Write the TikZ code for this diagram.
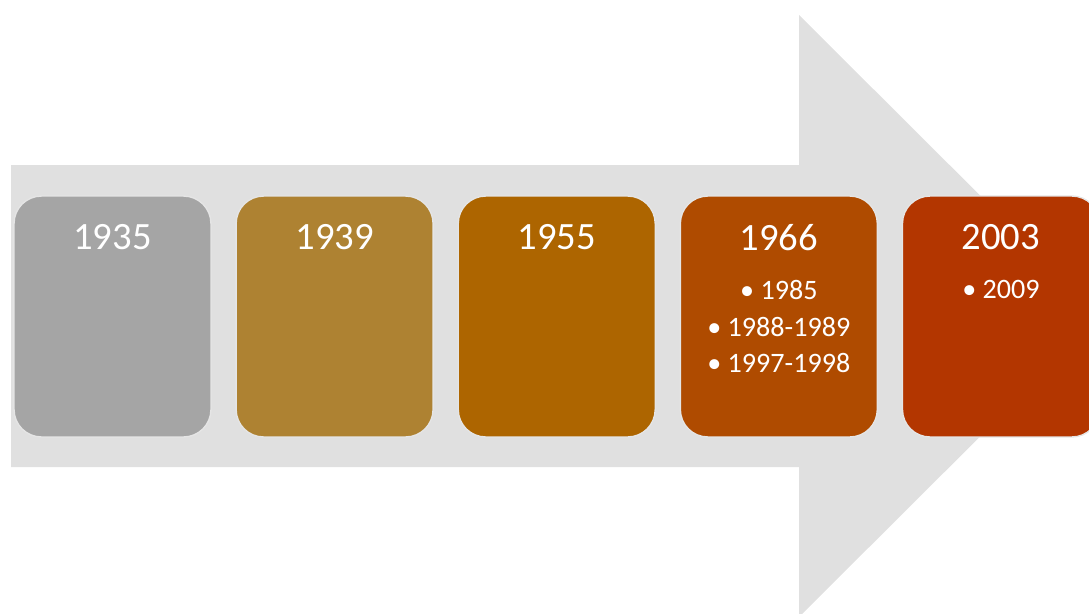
\documentclass[tikz,border=0pt]{standalone}
\usepackage{fontspec}
\setmainfont{Carlito}
\usetikzlibrary{positioning}
\definecolor{arrowgray}{HTML}{E0E0E0}
\definecolor{cgray}{HTML}{A5A5A5}
\definecolor{cochre}{HTML}{AE8232}
\definecolor{camber}{HTML}{AD6500}
\definecolor{crust}{HTML}{AF4B00}
\definecolor{cbrick}{HTML}{B33600}
\tikzset{
  yearbox/.style={rectangle, rounded corners=0.55cm, minimum width=3.94cm,
    minimum height=4.82cm, draw=white!90!black, line width=0.8pt, inner sep=0pt},
  yeartext/.style={text=white, font=\fontsize{22}{26}\selectfont, inner sep=0pt, anchor=north},
  subtext/.style={text=white, font=\fontsize{16}{18.5}\selectfont, inner sep=0pt,
    anchor=north, align=center},
}
\begin{document}
\begin{tikzpicture}[x=0.02cm, y=-0.02cm, node distance=0.475cm]
        \useasboundingbox (0,0) rectangle (1089,613);
        \clip (0,0) rectangle (1089,613);

        % Draw the big arrow behind the boxes
        \fill[arrowgray] (11,165) -- (799,165) -- (799,15) -- (1101,316)
          -- (799,617) -- (799,467) -- (11,467) -- cycle;

        % Draw the year boxes
        \node[yearbox, fill=cgray] (b1935) at (112.5,316.5) {};
        \node[yearbox, fill=cochre, right=of b1935] (b1939) {};
        \node[yearbox, fill=camber, right=of b1939] (b1955) {};
        \node[yearbox, fill=crust, right=of b1955] (b1966) {};
        \node[yearbox, fill=cbrick, right=of b1966] (b2003) {};

        % Titles
        \node[yeartext] (t1935) at ([yshift=-0.58cm]b1935.north) {1935};
        \node[yeartext] (t1939) at ([yshift=-0.58cm]b1939.north) {1939};
        \node[yeartext] (t1955) at ([yshift=-0.58cm]b1955.north) {1955};
        \node[yeartext] (t1966) at ([yshift=-0.58cm]b1966.north) {1966};
        \node[yeartext] (t2003) at ([yshift=-0.58cm]b2003.north) {2003};

        % Bullet lists
        \node[subtext] (s1966) at ([yshift=-1.7cm]b1966.north)
          {\textbullet\ 1985\\[0.08cm]\textbullet\ 1988-1989\\[0.08cm]\textbullet\ 1997-1998};
        \node[subtext] (s2003) at ([yshift=-1.7cm]b2003.north) {\textbullet\ 2009};
    \end{tikzpicture}
\end{document}
